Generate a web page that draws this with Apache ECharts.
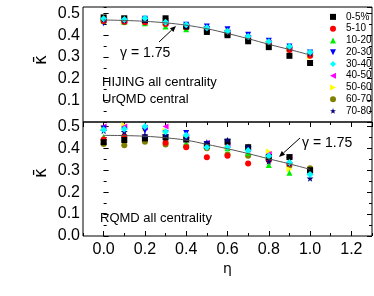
<!DOCTYPE html>
<html><head><meta charset="utf-8">
<script src="https://cdn.jsdelivr.net/npm/echarts@6/dist/echarts.min.js"></script>
<style>html,body{margin:0;padding:0;background:#fff}#c{width:374px;height:296px}</style>
</head><body><div id="c"></div>
<script>
// ---- data ----
const eta = [0.0, 0.1, 0.2, 0.3, 0.4, 0.5, 0.6, 0.7, 0.8, 0.9, 1.0];
const centralities = ['0-5%', '5-10', '10-20', '20-30', '30-40', '40-50', '50-60', '60-70', '70-80'];
// upper panel: HIJING all centrality / UrQMD central
const hij_0_5   = [0.482,0.478,0.470,0.478,0.440,0.415,0.400,0.372,0.345,0.305,0.272];
const hij_5_10  = [0.466,0.462,0.460,0.452,0.438,0.420,0.402,0.380,0.358,0.332,0.305];
const hij_10_20 = [0.468,0.462,0.455,0.440,0.428,0.425,0.405,0.385,0.362,0.338,0.318];
const hij_20_30 = [0.455,0.472,0.476,0.465,0.448,0.440,0.428,0.402,0.375,0.348,0.320];
const hij_30_40 = [0.476,0.472,0.478,0.460,0.448,0.434,0.418,0.394,0.370,0.348,0.322];
const hij_40_50 = [0.470,0.466,0.462,0.456,0.442,0.430,0.412,0.390,0.365,0.340,0.312];
const hij_50_60 = [0.468,0.466,0.462,0.455,0.438,0.426,0.410,0.386,0.366,0.336,0.300];
const hij_60_70 = [0.463,0.460,0.458,0.452,0.436,0.430,0.415,0.388,0.368,0.342,0.306];
const hij_70_80 = [0.472,0.468,0.468,0.460,0.445,0.436,0.420,0.395,0.370,0.342,0.316];
const fitUpper  = [0.470,0.468,0.464,0.457,0.446,0.430,0.408,0.384,0.358,0.334,0.309];
// lower panel: RQMD all centrality
const rq_0_5   = [0.428,0.438,0.445,0.450,0.440,0.412,0.430,0.405,0.360,0.360,0.300];
const rq_5_10  = [0.440,0.455,0.450,0.425,0.405,0.359,0.366,0.331,0.345,0.330,0.295];
const rq_10_20 = [0.452,0.448,0.452,0.440,0.420,0.415,0.400,0.380,0.324,0.289,0.300];
const rq_20_30 = [0.490,0.485,0.480,0.470,0.470,0.420,0.430,0.395,0.355,0.345,0.290];
const rq_30_40 = [0.485,0.488,0.500,0.475,0.460,0.405,0.405,0.390,0.365,0.335,0.281];
const rq_40_50 = [0.500,0.500,0.495,0.500,0.455,0.425,0.415,0.395,0.374,0.362,0.293];
const rq_50_60 = [0.495,0.505,0.490,0.480,0.450,0.410,0.405,0.398,0.385,0.304,0.300];
const rq_60_70 = [0.420,0.414,0.430,0.417,0.410,0.400,0.372,0.366,0.350,0.320,0.309];
const rq_70_80 = [0.480,0.475,0.460,0.460,0.445,0.427,0.438,0.407,0.340,0.331,0.263];
const fitLower = [0.459,0.458,0.455,0.448,0.437,0.418,0.398,0.376,0.352,0.329,0.304];

const upperSets = [hij_0_5,hij_5_10,hij_10_20,hij_20_30,hij_30_40,hij_40_50,hij_50_60,hij_60_70,hij_70_80];
const lowerSets = [rq_0_5,rq_5_10,rq_10_20,rq_20_30,rq_30_40,rq_40_50,rq_50_60,rq_60_70,rq_70_80];

const STAR = 'path://M0,-10L2.35,-3.24L9.51,-3.09L3.8,1.24L5.88,8.09L0,4.2L-5.88,8.09L-3.8,1.24L-9.51,-3.09L-2.35,-3.24Z';
const TRI_UP = 'path://M0,-1L1,1L-1,1Z';
const TRI_DN = 'path://M-1,-1L1,-1L0,1Z';
const TRI_LT = 'path://M-1,0L1,-1L1,1Z';
const TRI_RT = 'path://M1,0L-1,-1L-1,1Z';
const styles = [
  {c:'#000000', s:'rect', z:6, sz:6},
  {c:'#ff0000', s:'circle', z:6, sz:6},
  {c:'#00ee00', s:TRI_UP, z:6, sz:6},
  {c:'#0000ff', s:TRI_DN, z:6, sz:6},
  {c:'#00ffff', s:'diamond', z:7, sz:7},
  {c:'#ff00ff', s:TRI_LT, z:6, sz:6},
  {c:'#ffff00', s:TRI_RT, z:6, sz:6},
  {c:'#808000', s:'circle', z:6, sz:6},
  {c:'#000080', s:STAR, z:7, sz:7}
];

const FONT = 'Liberation Sans, Arial, sans-serif';
const pairs = arr => eta.map((e,i)=>[e, arr[i]]);

function xAx(grid, pos, major, labels) {
  const a = {type:'value', gridIndex:grid, position:pos, min:-0.1, max:1.3,
    axisLine:{show:false}, splitLine:{show:false},
    axisTick:{show:true, inside:true, length: major?5:3, lineStyle:{color:'#000', width:1}},
    axisLabel:{show:labels, margin:6, fontSize:16, color:'#000', fontFamily:FONT,
      showMinLabel:false, showMaxLabel:false, formatter:v=>v.toFixed(1)}};
  if (major) a.splitNumber = 7; else a.interval = 0.1;
  return a;
}
function yAx(grid, pos, major, labels, max, showMin) {
  return {type:'value', gridIndex:grid, position:pos, min:0, max:max, interval: major?0.1:0.05,
    axisLine:{show:false}, splitLine:{show:false},
    axisTick:{show:true, inside:true, length: major?5:3, lineStyle:{color:'#000', width:1}},
    axisLabel:{show:labels, margin:3, fontSize:16, color:'#000', fontFamily:FONT,
      showMinLabel:showMin, showMaxLabel:false, formatter:v=>v.toFixed(1)}};
}

const series = [];
function addPanel(sets, fit, xi, yi) {
  for (let k = sets.length-1; k >= 0; k--) {
    const st = styles[k];
    series.push({type:'scatter', name:centralities[k], xAxisIndex:xi, yAxisIndex:yi,
      data:pairs(sets[k]), symbol:st.s, symbolSize:st.sz, symbolKeepAspect:true,
      itemStyle:{color:st.c, opacity:1}, z:st.z, animation:false});
  }
  series.push({type:'line', name:'fit', xAxisIndex:xi, yAxisIndex:yi, data:pairs(fit),
    smooth:0.4, showSymbol:false, symbol:'none', lineStyle:{color:'#555', width:1}, z:10, silent:true, animation:false});
}
addPanel(upperSets, fitUpper, 0, 0);
addPanel(lowerSets, fitLower, 2, 4);

function arrow(x1,y1,x2,y2) {
  const dx=x2-x1, dy=y2-y1, L=Math.hypot(dx,dy), ux=dx/L, uy=dy/L, hl=6, hw=2.5;
  const bx=x2-ux*hl, by=y2-uy*hl;
  return [
    {type:'line', shape:{x1:x1,y1:y1,x2:bx,y2:by}, style:{stroke:'#000', lineWidth:1}},
    {type:'polygon', shape:{points:[[x2,y2],[bx-uy*hw,by+ux*hw],[bx+uy*hw,by-ux*hw]]}, style:{fill:'#000'}}
  ];
}
const txt = (x,y,t,fs) => ({type:'text', x:x, y:y,
  style:{text:t, fontSize:fs, fontFamily:FONT, fill:'#000', textVerticalAlign:'middle'}});
const kappa = (x,y) => ({type:'text', x:x, y:y, rotation:Math.PI/2,
  style:{text:'κ\u0304', fontSize:17, fontFamily:'DejaVu Sans, sans-serif', fill:'#000', textAlign:'center', textVerticalAlign:'middle'}});

const chart = echarts.init(document.getElementById('c'), null, {renderer:'canvas'});
chart.setOption({
  animation:false,
  backgroundColor:'#fff',
  grid:[
    {left:83, top:7, width:289, height:115, show:true, borderColor:'#000', borderWidth:1, backgroundColor:'transparent'},
    {left:83, top:122, width:289, height:114, show:true, borderColor:'#000', borderWidth:1, backgroundColor:'transparent'}
  ],
  xAxis:[
    xAx(0,'top',true,false), xAx(0,'top',false,false),
    Object.assign(xAx(1,'bottom',true,true), {name:'η', nameLocation:'middle', nameGap:26,
      nameTextStyle:{fontSize:14, color:'#000', fontFamily:'DejaVu Sans, sans-serif'}}),
    xAx(1,'bottom',false,false)
  ],
  yAxis:[
    yAx(0,'left',true,true,0.53,false), yAx(0,'left',false,false,0.53,false),
    yAx(0,'right',true,false,0.53,false), yAx(0,'right',false,false,0.53,false),
    yAx(1,'left',true,true,0.52,true), yAx(1,'left',false,false,0.52,true),
    yAx(1,'right',true,false,0.52,true), yAx(1,'right',false,false,0.52,true)
  ],
  legend:{orient:'vertical', left:330, top:11, padding:0, itemWidth:6, itemHeight:6, itemGap:0,
    symbolKeepAspect:true, selectedMode:false, data:centralities,
    textStyle:{fontSize:10, lineHeight:11.75, color:'#000', fontFamily:FONT, padding:[0,0,0,5]}},
  series:series,
  graphic:[
    kappa(42,60), kappa(42,173),
    txt(120,53,'γ = 1.75',14),
    txt(302,143,'γ = 1.75',14),
    txt(102,82,'HIJING all centrality',13),
    txt(102,99,'UrQMD central',13),
    txt(100,218,'RQMD all centrality',13),
    ...arrow(159,42,176,26),
    ...arrow(300,138,279,157)
  ]
});
</script></body></html>
